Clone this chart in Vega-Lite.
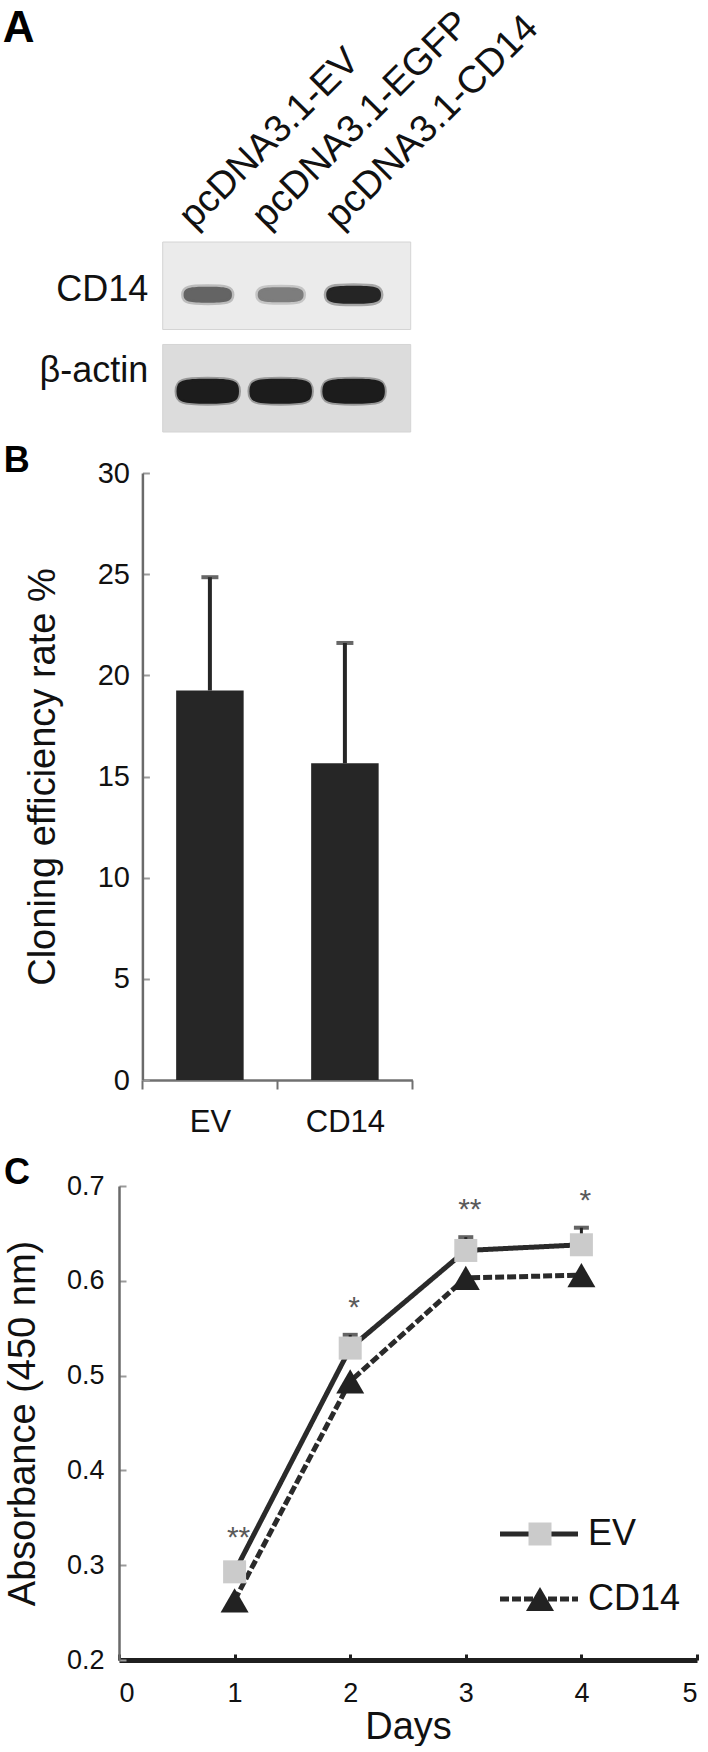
{
  "$schema": "https://vega.github.io/schema/vega-lite/v6.json",
  "background": "white",
  "padding": {"left": 2, "top": 3, "right": 0, "bottom": 0},
  "spacing": 10,
  "config": {
    "font": "Liberation Sans",
    "view": {"stroke": null},
    "axis": {"labelColor": "#111111", "titleColor": "#111111", "grid": false, "titleFontWeight": "normal", "labelFont": "Liberation Sans", "titleFont": "Liberation Sans"},
    "title": {"color": "#000000", "font": "Liberation Sans", "fontWeight": "bold"},
    "legend": {"labelFont": "Liberation Sans", "labelColor": "#111111"}
  },
  "resolve": {
    "scale": {"shape": "independent", "fill": "independent", "size": "independent", "strokeDash": "independent", "stroke": "independent", "color": "independent"},
    "legend": {"shape": "independent", "fill": "independent", "size": "independent", "strokeDash": "independent", "stroke": "independent", "color": "independent"}
  },
  "datasets": {
    "blot": [
      {"protein": "CD14"},
      {"protein": "β-actin"}
    ],
    "bands": [
      {"lane": "pcDNA3.1-EV", "protein": "CD14", "intensity": 0.62},
      {"lane": "pcDNA3.1-EGFP", "protein": "CD14", "intensity": 0.5},
      {"lane": "pcDNA3.1-CD14", "protein": "CD14", "intensity": 0.95},
      {"lane": "pcDNA3.1-EV", "protein": "β-actin", "intensity": 1.0},
      {"lane": "pcDNA3.1-EGFP", "protein": "β-actin", "intensity": 1.0},
      {"lane": "pcDNA3.1-CD14", "protein": "β-actin", "intensity": 1.0}
    ],
    "cloning": [
      {"group": "EV", "rate": 19.25, "upper": 24.85},
      {"group": "CD14", "rate": 15.65, "upper": 21.6}
    ],
    "absorbance": [
      {"series": "EV", "day": 1, "absorbance": 0.293, "upper": 0.300, "sig": "**"},
      {"series": "EV", "day": 2, "absorbance": 0.529, "upper": 0.543, "sig": "*"},
      {"series": "EV", "day": 3, "absorbance": 0.632, "upper": 0.646, "sig": "**"},
      {"series": "EV", "day": 4, "absorbance": 0.638, "upper": 0.656, "sig": "*"},
      {"series": "CD14", "day": 1, "absorbance": 0.263},
      {"series": "CD14", "day": 2, "absorbance": 0.494},
      {"series": "CD14", "day": 3, "absorbance": 0.603},
      {"series": "CD14", "day": 4, "absorbance": 0.606}
    ]
  },
  "vconcat": [
    {
      "width": 291.7,
      "height": 190,
      "title": {"text": "A", "anchor": "start", "frame": "group", "fontSize": 44, "dx": -116.3, "dy": 47, "offset": 0},
      "resolve": {"scale": {"x": "independent"}},
      "layer": [
        {
          "data": {"name": "blot"},
          "mark": {"type": "rect", "stroke": "#d4d4d4", "strokeWidth": 1},
          "encoding": {
            "x": {"datum": "blot", "type": "nominal", "scale": {"type": "band", "paddingInner": 0, "paddingOuter": 0.0881, "align": 1}, "axis": null},
            "y": {
              "field": "protein", "type": "nominal", "sort": ["CD14", "β-actin"],
              "scale": {"paddingInner": 0.146, "paddingOuter": 0},
              "axis": {
                "title": null, "domain": false, "ticks": false, "offset": -43.7, "labelFontSize": 36, "labelPadding": 15, "labelColor": "#111111",
                "labelOffset": {"condition": {"test": "datum.value === 'β-actin'", "value": -17}, "value": 4}
              }
            },
            "color": {"field": "protein", "type": "nominal", "scale": {"domain": ["CD14", "β-actin"], "range": ["#ebebeb", "#dcdcdc"]}, "legend": null}
          }
        },
        {
          "data": {"name": "bands"},
          "layer": [
            {
              "transform": [{"filter": "datum.protein === 'CD14'"}],
              "mark": {
                "type": "point", "filled": true, "opacity": 1, "yOffset": 9,
                "shape": "M-1,0C-1,-0.3,-0.75,-0.33,0,-0.33C0.75,-0.33,1,-0.3,1,0C1,0.3,0.75,0.33,0,0.33C-0.75,0.33,-1,0.3,-1,0Z",
                "strokeWidth": 5, "strokeOpacity": 0.35
              },
              "encoding": {
                "x": {
                  "field": "lane", "type": "nominal", "sort": ["pcDNA3.1-EV", "pcDNA3.1-EGFP", "pcDNA3.1-CD14"],
                  "scale": {"type": "point", "padding": 1.069, "align": 0.6085},
                  "axis": {"orient": "top", "title": null, "domain": false, "ticks": false, "tickSize": 0, "labelAngle": -45, "labelAlign": "left", "labelBaseline": "middle", "labelFontSize": 38, "labelPadding": 20, "labelOffset": -22, "labelLimit": 400, "labelColor": "#111111"}
                },
                "y": {"field": "protein", "type": "nominal", "sort": ["CD14", "β-actin"]},
                "fill": {"field": "intensity", "type": "quantitative", "scale": {"domain": [0, 1], "range": ["#f0f0f0", "#1c1c1c"]}, "legend": null},
                "stroke": {"field": "intensity", "type": "quantitative", "scale": {"domain": [0, 1], "range": ["#f0f0f0", "#1c1c1c"]}, "legend": null},
                "size": {"field": "intensity", "type": "quantitative", "scale": {"domain": [0.5, 0.95], "range": [2100, 3000]}, "legend": null}
              }
            },
            {
              "transform": [{"filter": "datum.protein === 'β-actin'"}],
              "mark": {
                "type": "point", "filled": true, "opacity": 1, "size": 3900, "yOffset": 3,
                "shape": "M-1,0C-1,-0.36,-0.8,-0.4,0,-0.4C0.8,-0.4,1,-0.36,1,0C1,0.36,0.8,0.4,0,0.4C-0.8,0.4,-1,0.36,-1,0Z",
                "strokeWidth": 4, "strokeOpacity": 0.35
              },
              "encoding": {
                "x": {"field": "lane", "type": "nominal", "sort": ["pcDNA3.1-EV", "pcDNA3.1-EGFP", "pcDNA3.1-CD14"]},
                "y": {"field": "protein", "type": "nominal", "sort": ["CD14", "β-actin"]},
                "fill": {"field": "intensity", "type": "quantitative"},
                "stroke": {"field": "intensity", "type": "quantitative"}
              }
            }
          ]
        }
      ]
    },
    {
      "spacing": 18,
      "resolve": {
        "scale": {"shape": "independent", "fill": "independent", "size": "independent", "strokeDash": "independent"},
        "legend": {"shape": "independent", "fill": "independent", "size": "independent", "strokeDash": "independent"}
      },
      "vconcat": [
        {
          "width": 293.4,
          "height": 607,
          "title": {"text": "B", "anchor": "start", "frame": "group", "fontSize": 36, "dx": -115.3, "dy": 21, "offset": 0},
          "data": {"name": "cloning"},
          "encoding": {
            "x": {
              "field": "group", "type": "nominal", "sort": ["EV", "CD14"],
              "scale": {"range": [23.4, 293.4], "paddingInner": 0, "paddingOuter": 0},
              "axis": {"title": null, "labelAngle": 0, "labelFontSize": 31, "labelPadding": 18, "labelColor": "#111111", "domainColor": "#707070", "domainWidth": 2.5, "tickBand": "extent", "tickColor": "#707070", "tickWidth": 2, "tickSize": 9}
            }
          },
          "layer": [
            {
              "mark": {"type": "bar", "color": "#262626", "width": {"band": 0.5}},
              "encoding": {
                "y": {
                  "field": "rate", "type": "quantitative", "scale": {"domain": [0, 30]},
                  "axis": {"title": "Cloning efficiency rate %", "offset": -23.4, "values": [0, 5, 10, 15, 20, 25, 30], "labelFontSize": 29, "labelPadding": 20, "labelColor": "#111111", "domainColor": "#6b6b6b", "domainWidth": 2.5, "tickColor": "#9a9a9a", "tickSize": -7, "tickWidth": 2, "titleFontSize": 38, "titlePadding": 35}
                }
              }
            },
            {
              "mark": {"type": "rule", "color": "#262626", "strokeWidth": 4},
              "encoding": {"y": {"field": "rate", "type": "quantitative"}, "y2": {"field": "upper"}}
            },
            {
              "mark": {"type": "tick", "orient": "horizontal", "color": "#262626", "thickness": 4, "size": 17},
              "encoding": {"y": {"field": "upper", "type": "quantitative"}}
            }
          ]
        },
        {
          "width": 578,
          "height": 474,
          "title": {"text": "C", "anchor": "start", "frame": "group", "fontSize": 36, "dx": -115, "dy": 20, "offset": 0},
          "data": {"name": "absorbance"},
          "encoding": {
            "x": {
              "field": "day", "type": "quantitative", "scale": {"domain": [0, 5]},
              "axis": {"title": "Days", "values": [0, 1, 2, 3, 4, 5], "format": "d", "labelFontSize": 27, "labelPadding": 26, "labelColor": "#111111", "domainColor": "#1f1f1f", "domainWidth": 5, "tickColor": "#1f1f1f", "tickSize": -6, "tickWidth": 3, "titleFontSize": 38, "titlePadding": 2}
            },
            "y": {
              "field": "absorbance", "type": "quantitative", "scale": {"domain": [0.2, 0.7]},
              "axis": {"title": "Absorbance (450 nm)", "values": [0.2, 0.3, 0.4, 0.5, 0.6, 0.7], "format": ".1f", "labelFontSize": 27, "labelPadding": 22, "labelColor": "#111111", "domainColor": "#6a6a6a", "domainWidth": 2.5, "tickColor": "#9a9a9a", "tickSize": -7, "tickWidth": 2, "titleFontSize": 38, "titlePadding": 24}
            }
          },
          "layer": [
            {
              "mark": {"type": "line", "color": "#2a2a2a", "strokeWidth": 5},
              "encoding": {
                "strokeDash": {
                  "field": "series", "type": "nominal", "sort": "descending",
                  "scale": {"range": [[1, 0], [9, 3]]},
                  "legend": {"orient": "none", "legendX": 402, "legendY": 330, "title": null, "padding": 0, "symbolType": "M-3,0L3,0", "symbolSize": 676, "symbolStrokeWidth": 5, "symbolStrokeColor": "#2a2a2a", "labelFontSize": 36, "labelOffset": 31, "rowPadding": 29}
                }
              }
            },
            {
              "transform": [{"filter": "datum.series === 'EV'"}],
              "mark": {"type": "rule", "color": "#222222", "strokeWidth": 3},
              "encoding": {"y2": {"field": "upper"}}
            },
            {
              "transform": [{"filter": "datum.series === 'EV'"}],
              "mark": {"type": "tick", "orient": "horizontal", "color": "#222222", "thickness": 4, "size": 15},
              "encoding": {"y": {"field": "upper", "type": "quantitative"}}
            },
            {
              "mark": {"type": "point", "filled": true, "opacity": 1, "strokeWidth": 0},
              "encoding": {
                "shape": {"field": "series", "type": "nominal", "scale": {"domain": ["EV", "CD14"], "range": ["square", "triangle-up"]},
                  "legend": {"orient": "none", "legendX": 403, "legendY": 330, "title": null, "padding": 0, "labelFontSize": 36, "labelExpr": "''", "rowPadding": 29, "symbolStrokeWidth": 0}},
                "fill": {"field": "series", "type": "nominal", "scale": {"domain": ["EV", "CD14"], "range": ["#cbcbcb", "#222222"]},
                  "legend": {"orient": "none", "legendX": 403, "legendY": 330, "title": null, "padding": 0, "labelFontSize": 36, "labelExpr": "''", "rowPadding": 29, "symbolStrokeWidth": 0}},
                "size": {"field": "series", "type": "nominal", "scale": {"domain": ["EV", "CD14"], "range": [529, 784]},
                  "legend": {"orient": "none", "legendX": 403, "legendY": 330, "title": null, "padding": 0, "labelFontSize": 36, "labelExpr": "''", "rowPadding": 29, "symbolStrokeWidth": 0}}
              }
            },
            {
              "transform": [{"filter": "datum.sig"}],
              "mark": {"type": "text", "fontSize": 30, "color": "#5a5a5a", "dy": -18, "dx": 4, "baseline": "alphabetic"},
              "encoding": {"y": {"field": "upper", "type": "quantitative"}, "text": {"field": "sig"}}
            }
          ]
        }
      ]
    }
  ]
}
